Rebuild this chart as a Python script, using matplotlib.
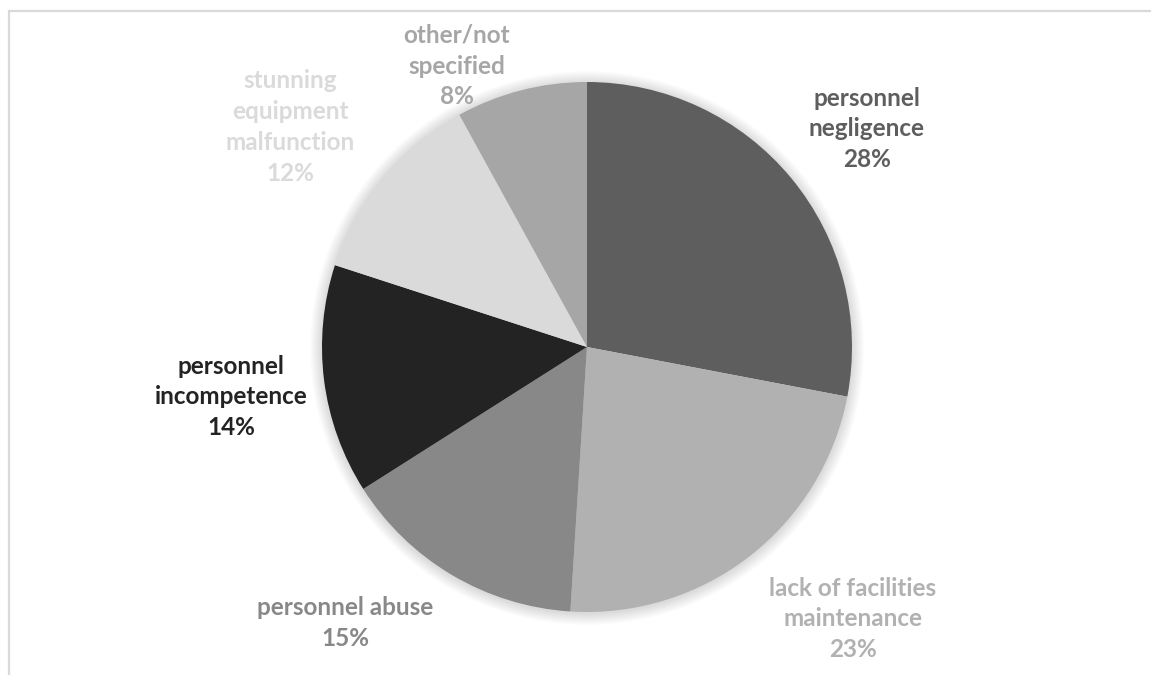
import matplotlib
matplotlib.use("Agg")
import matplotlib.pyplot as plt
from matplotlib.patches import Circle

categories = ["personnel\nnegligence", "lack of facilities\nmaintenance", "personnel abuse",
              "personnel\nincompetence", "stunning\nequipment\nmalfunction", "other/not\nspecified"]
values = [28, 23, 15, 14, 12, 8]
colors = ["#5e5e5e", "#b1b1b1", "#888888", "#232323", "#dadada", "#a6a6a6"]
label_colors = ["#5e5e5e", "#b1b1b1", "#888888", "#232323", "#dadada", "#a6a6a6"]
# label centers in pixel coordinates (x from left, y from top)
label_pos = [(867, 129), (853, 619), (345, 623), (231, 397), (290, 127), (457, 66)]

W, H = 1151, 675
fig = plt.figure(figsize=(W / 100, H / 100), dpi=100)
ax = fig.add_axes([0, 0, 1, 1])

cx, cy, r = 587, H - 347, 265

# soft shadow
for i in range(12, 0, -1):
    ax.add_patch(Circle((cx, cy - 1), r + i, color="#000000", alpha=0.012, lw=0, zorder=0))

total = sum(values)
ax.pie(values, colors=colors, startangle=90, counterclock=False, center=(cx, cy), radius=r,
       wedgeprops=dict(linewidth=0), frame=True)

for cat, v, c, (px, py) in zip(categories, values, label_colors, label_pos):
    ax.text(px, H - py, f"{cat}\n{round(100 * v / total)}%", ha="center", va="center",
            color=c, fontsize=17.5, family="Lato", fontweight="bold", linespacing=1.42, zorder=5)

# chart border (light gray)
ax.plot([9, 9, W + 5], [-5, H - 11, H - 11], color="#d9d9d9", lw=1.6, solid_joinstyle="miter", zorder=6)

ax.set_xlim(0, W)
ax.set_ylim(0, H)
ax.set_aspect("equal")
ax.axis("off")
fig.savefig("out.png", dpi=100)
